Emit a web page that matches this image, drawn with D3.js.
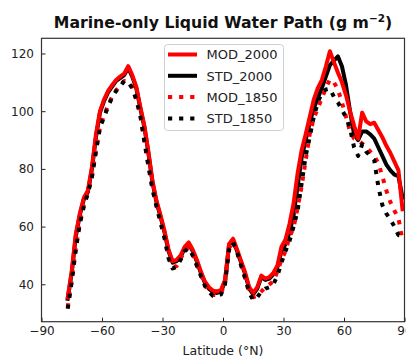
<!DOCTYPE html>
<html><head><meta charset="utf-8">
<script src="https://cdn.jsdelivr.net/npm/d3@7"></script>
<style>body{margin:0;background:#fff}svg{display:block}text{font-family:"DejaVu Sans",sans-serif}</style>
</head><body>
<script>
const latitudes = [-77,-75,-73,-71,-69,-67,-65,-63,-61,-59,
  -57,-55,-53,-51,-49,-47,-45,-43,-41,-39,
  -37,-35,-33,-31,-29,-27,-25,-23,-21,-19,
  -17,-15,-13,-11,-9,-7,-5,-3,-1,1,
  3,5,7,9,11,13,15,17,19,21,
  23,25,27,29,31,33,35,37,39,41,
  43,45,47,49,51,53,55,57,59,61,
  63,65,67,69,71,73,75,77,79,81,
  83,85,87,89];
const MOD_2000 = [35.4,44.7,57.5,64.5,70,72.5,80.5,92,100,104,
  107,109,110.8,112,113,115.6,112.5,108.5,101.5,95,
  86,76,69,64,58.5,52,48,48.5,50,53,
  54.5,52,48.5,44.5,41,39,37.8,37.5,38,41.5,
  54,55.8,52,48,44,39,37,39,43,42,
  42.5,44,46.5,53,55.5,61,68,78.5,86.5,92,
  98,104,108,110.8,115.5,120.8,117,113.3,110,105.5,
  100,95,90.5,99.5,96.5,95.5,96,93.5,91,88,
  85.5,82.5,79.5,66];
const STD_2000 = [35,44,56.5,64,69.5,72,80,91,99.5,103.5,
  106.5,108.5,110.5,111.5,112.5,115,112,108,101,94.5,
  85.5,75.5,68.5,63.5,58,51.5,47.5,48,49.5,52.5,
  54,51.5,48,44,40.5,38.5,37.3,37,37.5,41,
  53.5,55.3,51.5,47.5,43.5,38.5,36.5,38.5,42.5,41.5,
  42,43.5,46,51.5,54,58,64,74,84,90,
  96,101,104.5,108,112,116,117.5,119,115.5,109,
  100,92,90,93,93,92,90.5,87.5,84.5,81.5,
  79.5,78,77.5,70];
const MOD_1850 = [32,41.5,52.5,61.5,67.5,72,77.5,86.5,94.5,98.5,
  102,105,107.2,108.8,110.5,110.3,108.3,104.3,98.8,90,
  81.5,73.5,67.5,62,56.5,49.5,46,46.3,48.8,51.8,
  52.8,50.3,46.8,43.3,39.8,37.8,36.3,36.3,36.8,40.3,
  52.5,54.8,51.3,46.8,42.3,37.5,35.5,36,37.5,39,
  40,41,44.5,48.5,51.5,56.5,59.5,66.5,74,83,
  92,97.5,101,104.5,108,111,110,107.5,103,98,
  93,90.5,89.8,88.8,87.5,86,84.5,82,77.5,72.5,
  68.5,65.5,63,55];
const STD_1850 = [31.5,41,52,61,67,71.5,77,86,94.3,98,
  101.5,104.8,107,108.5,110.5,110,108,104,98.5,89.5,
  81,73,67,61.5,56,49,45.5,46,48.5,51.5,
  52.5,50,46.5,43,39.5,37.5,36,36,36.5,40,
  52,54.5,51,46.5,42,37,34.5,35.5,37.5,38.5,
  39,40,43,47.5,51.5,55,60,65.5,75,84.5,
  91,98,103,106.5,107.5,107.8,105,103,100.5,97.8,
  94,87.5,84.5,88.5,86,84.5,83,74,67.5,64.5,
  62.5,60,57,57];
const xTicks = [-90,-60,-30,0,30,60,90];
const yTicks = [40,60,80,100,120];
const seriesNames = ["MOD_2000","STD_2000","MOD_1850","STD_1850"];

const W = 406, H = 361;
const m = {l:41.5, r:404.5, t:38.3, b:321.7};
const svg = d3.select("body").append("svg").attr("width",W).attr("height",H);
const x = d3.scaleLinear().domain([-90,90]).range([m.l,m.r]);
const allVals = MOD_2000.concat(STD_2000,MOD_1850,STD_1850);
const lo = d3.min(allVals), hi = d3.max(allVals), pad = (hi-lo)*0.05;
const y = d3.scaleLinear().domain([lo-pad, hi+pad]).range([m.b,m.t]);

const styles = {
  MOD_2000:{data:MOD_2000,color:"#ff0000",dash:null},
  STD_2000:{data:STD_2000,color:"#000000",dash:null},
  MOD_1850:{data:MOD_1850,color:"#ff0000",dash:"4.2,6.9"},
  STD_1850:{data:STD_1850,color:"#000000",dash:"4.2,6.9"}
};
const drawOrder = ["STD_2000","MOD_2000","MOD_1850","STD_1850"];
const line = d3.line().x(d=>x(d[0])).y(d=>y(d[1]));
const g = svg.append("g");
svg.append("clipPath").attr("id","clip").append("rect")
  .attr("x",m.l).attr("y",m.t).attr("width",m.r-m.l).attr("height",m.b-m.t);
const lg = g.append("g").attr("clip-path","url(#clip)");
drawOrder.forEach(n=>{
  const s = styles[n];
  lg.append("path").datum(d3.zip(latitudes,s.data))
    .attr("d",line).attr("fill","none").attr("stroke",s.color)
    .attr("stroke-width",4).attr("stroke-linejoin","round")
    .attr("stroke-linecap", s.dash ? "butt" : "square")
    .attr("stroke-dasharray", s.dash);
});

// axes
const xAxis = d3.axisBottom(x).tickValues(xTicks).tickSize(-4).tickPadding(7)
  .tickFormat(d=>d<0?"\u2212"+Math.abs(d):d);
const yAxis = d3.axisLeft(y).tickValues(yTicks).tickSize(-4).tickPadding(7);
const gx = svg.append("g").attr("transform",`translate(0,${m.b})`).call(xAxis);
const gy = svg.append("g").attr("transform",`translate(${m.l},0)`).call(yAxis);
[gx,gy].forEach(a=>{
  a.select(".domain").remove();
  a.selectAll("line").attr("stroke","#222").attr("stroke-width",1);
  a.selectAll("text").attr("font-size",12).attr("fill","#222")
    .attr("font-family","DejaVu Sans");
});
gx.selectAll("text").attr("dy","0.71em").attr("y",5);
gy.selectAll("text").attr("x",-7.5);
svg.append("rect").attr("x",m.l).attr("y",m.t).attr("width",m.r-m.l).attr("height",m.b-m.t)
  .attr("fill","none").attr("stroke","#333").attr("stroke-width",1.2);

// title
const t = svg.append("text").attr("x",(m.l+m.r)/2).attr("y",28).attr("text-anchor","middle")
  .attr("font-size",15.7).attr("font-weight","bold").attr("fill","#111");
t.append("tspan").text("Marine-only Liquid Water Path (g m");
t.append("tspan").attr("font-size",10.5).attr("dy",-6).text("\u22122");
t.append("tspan").attr("dy",6).text(")");

// x label
svg.append("text").attr("x",(m.l+m.r)/2).attr("y",355).attr("text-anchor","middle")
  .attr("font-size",12.5).attr("fill","#222").text("Latitude (\u00b0N)");

// legend
const L = svg.append("g");
L.append("rect").attr("x",164.5).attr("y",44.5).attr("width",119).attr("height",86)
  .attr("rx",3).attr("fill","#fff").attr("fill-opacity",0.8).attr("stroke","#d0d0d0");
seriesNames.forEach((n,i)=>{
  const s = styles[n];
  const yy = 54.5 + i*21.3;
  L.append("line").attr("x1",168).attr("x2",197).attr("y1",yy).attr("y2",yy)
    .attr("stroke",s.color).attr("stroke-width",4).attr("stroke-dasharray",s.dash);
  L.append("text").attr("x",206.5).attr("y",yy+4.7).attr("font-size",13)
    .attr("fill","#222").text(n);
});
</script>
</body></html>
